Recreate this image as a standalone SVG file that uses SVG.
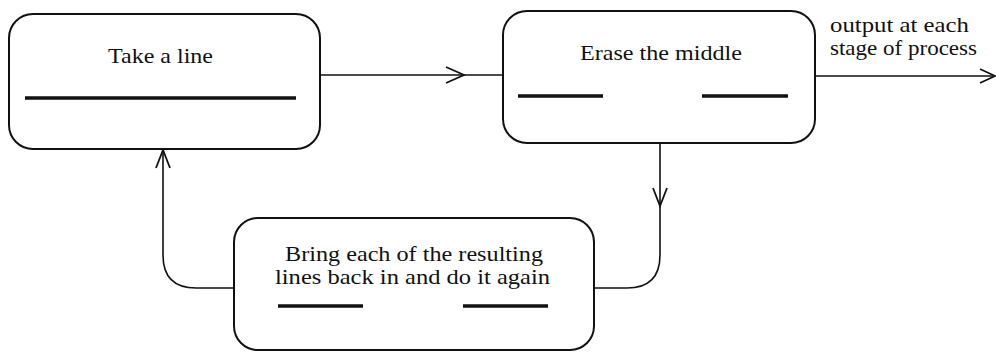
<svg xmlns="http://www.w3.org/2000/svg" width="996" height="353" viewBox="0 0 996 353">
<defs>
<style>
.box{fill:#fff;stroke:#111;stroke-width:2}
.bar{stroke:#111;stroke-width:3.5;stroke-linecap:butt}
.lbl{font-family:"Liberation Serif",serif;font-size:21px;fill:#111}
.con{fill:none;stroke:#111;stroke-width:1.6}
.head{fill:none;stroke:#111;stroke-width:1.8}
</style>
</defs>
<rect width="996" height="353" fill="#fff"/>
<g id="connectors">
<path class="con" d="M320 75 H503"/>
<path class="head" d="M446 67 L464 75 L446 83"/>
<path class="con" d="M815 76 H994"/>
<path class="head" d="M980 69 L995 76 L980 83"/>
<path class="con" d="M660 143 V255 Q660 288 627 288 H594"/>
<path class="head" d="M653 188 L660 206 L667 188"/>
<path class="con" d="M234 288 H196 Q163 288 163 255 V150"/>
<path class="head" d="M156 168 L163 150 L170 168"/>
<text class="lbl" x="830" y="32" textLength="139" lengthAdjust="spacingAndGlyphs">output at each</text>
<text class="lbl" x="830" y="55" textLength="147" lengthAdjust="spacingAndGlyphs">stage of process</text>
</g>
<g id="take-line">
<rect class="box" x="9" y="14" width="311" height="135" rx="24"/>
<text class="lbl" x="108" y="63" textLength="105" lengthAdjust="spacingAndGlyphs">Take a line</text>
<line class="bar" x1="25" y1="98" x2="296" y2="98"/>
</g>
<g id="erase-middle">
<rect class="box" x="503" y="11" width="312" height="132" rx="24"/>
<text class="lbl" x="580" y="60" textLength="162" lengthAdjust="spacingAndGlyphs">Erase the middle</text>
<line class="bar" x1="518" y1="96" x2="603" y2="96"/>
<line class="bar" x1="702" y1="96" x2="788" y2="96"/>
</g>
<g id="bring-back">
<rect class="box" x="234" y="218" width="360" height="132" rx="24"/>
<text class="lbl" x="285" y="261" textLength="258" lengthAdjust="spacingAndGlyphs">Bring each of the resulting</text>
<text class="lbl" x="275" y="284" textLength="275" lengthAdjust="spacingAndGlyphs">lines back in and do it again</text>
<line class="bar" x1="278" y1="306" x2="363" y2="306"/>
<line class="bar" x1="463" y1="306" x2="548" y2="306"/>
</g>
</svg>
